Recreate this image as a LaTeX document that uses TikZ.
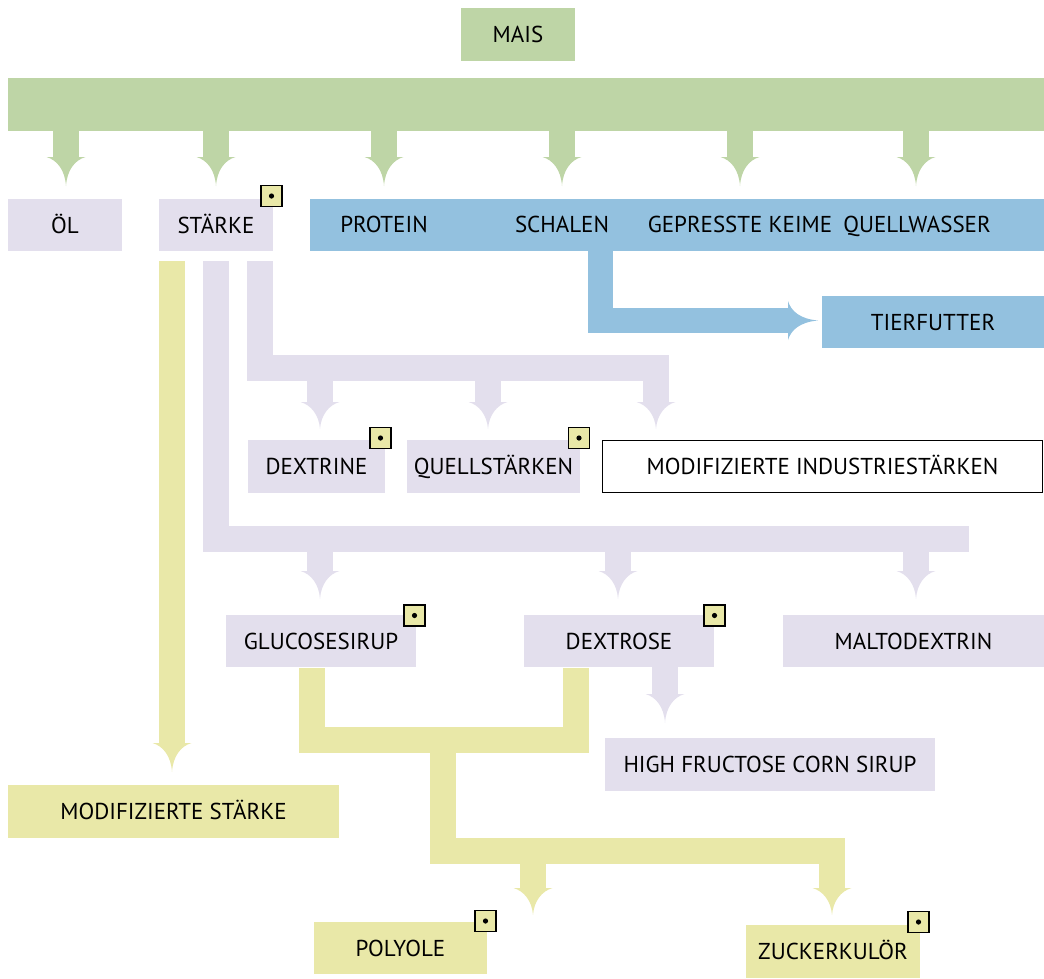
\documentclass[tikz,border=0pt]{standalone}
\usepackage{fontspec}
\setmainfont{PT Sans}
\definecolor{cgreen}{HTML}{BED5A6}
\definecolor{clav}{HTML}{E3DFED}
\definecolor{cblue}{HTML}{93C1DF}
\definecolor{cyel}{HTML}{E9E8A8}
\newcommand\dnhead[4]{%
  \fill[#1] (#2-19.5,#3) -- (#2+19.5,#3) .. controls (#2+9,#3+3) and (#2+1,#3+13) .. (#2,#4)
    .. controls (#2-1,#3+13) and (#2-9,#3+3) .. (#2-19.5,#3) -- cycle;}
\begin{document}
\begin{tikzpicture}[x=1pt,y=-1pt,
  box/.style={inner sep=0pt, outer sep=0pt, font=\fontsize{23}{26}\selectfont, text=black,
    text height=16pt, text depth=0pt, text width=, align=center},
  lbl/.style={inner sep=0pt, font=\fontsize{23}{26}\selectfont, text=black, text height=16pt, text depth=0pt},
  dotbox/.style={draw=black, line width=1.3pt, fill=cyel, minimum size=21pt, inner sep=0pt,
    path picture={\fill[black] (path picture bounding box.center) circle (2.6pt);}}
]
\useasboundingbox (0,0) rectangle (1044,978);
% ---------- green ----------
\node[box, fill=cgreen, minimum width=114pt, minimum height=53pt] (mais) at (518,34.5) {MAIS};
\fill[cgreen] (8,78) rectangle (1044,131);
\foreach \c in {66,216,384,562,740,916}{
  \fill[cgreen] (\c-13,130) rectangle (\c+13,158);
  \dnhead{cgreen}{\c}{157}{186}
}
% ---------- top row ----------
\node[box, fill=clav, minimum width=114pt, minimum height=52pt] (oel) at (65,225) {ÖL};
\node[box, fill=clav, minimum width=114pt, minimum height=52pt] (staerke) at (216,225) {STÄRKE};
\node[dotbox] (d1) at (271.5,196) {};
\node[box, fill=cblue, minimum width=734pt, minimum height=52pt] (blue) at (677,225) {};
\node[lbl] (protein) at (384,224) {PROTEIN};
\node[lbl] (schalen) at (562,224) {SCHALEN};
\node[lbl] (keime) at (740,224) {GEPRESSTE KEIME};
\node[lbl] (quell) at (917,224) {QUELLWASSER};
% ---------- blue arrow ----------
\fill[cblue] (588,251) rectangle (613,333);
\fill[cblue] (588,308) rectangle (790,333);
\fill[cblue] (788,301) -- (788,340) .. controls (791,330) and (800,322) .. (818,320.5)
   .. controls (800,319) and (791,311) .. (788,301) -- cycle;
\node[box, fill=cblue, minimum width=222pt, minimum height=52pt] (tier) at (933,322) {TIERFUTTER};
% ---------- starch branch 3 ----------
\fill[clav] (247,261) rectangle (273,381);
\fill[clav] (247,355) rectangle (669,381);
\foreach \c in {320,488,656}{
  \fill[clav] (\c-13,380) rectangle (\c+13,403);
  \dnhead{clav}{\c}{402}{429}
}
\node[box, fill=clav, minimum width=137pt, minimum height=53pt] (dextrine) at (316.5,466.5) {DEXTRINE};
\node[dotbox] (d2) at (380.5,438) {};
\node[box, fill=clav, minimum width=173pt, minimum height=53pt] (quellst) at (493.5,466.5) {QUELLSTÄRKEN};
\node[dotbox] (d3) at (579,438) {};
\node[box, draw=black, line width=1.3pt, fill=white, minimum width=440pt, minimum height=52pt] (modind) at (822.5,466.5) {MODIFIZIERTE INDUSTRIESTÄRKEN};
% ---------- starch branch 2 ----------
\fill[clav] (203,261) rectangle (229,552);
\fill[clav] (203,526) rectangle (969,552);
\foreach \c in {320,618,916}{
  \fill[clav] (\c-13,551) rectangle (\c+13,572);
  \dnhead{clav}{\c}{571}{599}
}
\node[box, fill=clav, minimum width=190pt, minimum height=52pt] (gluc) at (321,641) {GLUCOSESIRUP};
\node[dotbox] (d4) at (414.5,615.5) {};
\node[box, fill=clav, minimum width=190pt, minimum height=52pt] (dextrose) at (619,641) {DEXTROSE};
\node[dotbox] (d5) at (714.5,615.5) {};
\node[box, fill=clav, minimum width=261pt, minimum height=52pt] (malto) at (913.5,641) {MALTODEXTRIN};
\fill[clav] (652,666) rectangle (678,695);
\dnhead{clav}{665}{694}{723}
\node[box, fill=clav, minimum width=330pt, minimum height=53pt] (hfcs) at (770,764.5) {HIGH FRUCTOSE CORN SIRUP};
% ---------- yellow ----------
\fill[cyel] (159,261) rectangle (185,745);
\dnhead{cyel}{172}{743}{772}
\node[box, fill=cyel, minimum width=331pt, minimum height=53pt] (modst) at (173.5,811.5) {MODIFIZIERTE STÄRKE};
\fill[cyel] (299,668) rectangle (325,753);
\fill[cyel] (563,668) rectangle (589,753);
\fill[cyel] (299,727) rectangle (589,753);
\fill[cyel] (430,752) rectangle (456,864);
\fill[cyel] (430,838) rectangle (845,864);
\foreach \c in {533,832}{
  \fill[cyel] (\c-13,863) rectangle (\c+13,889);
  \dnhead{cyel}{\c}{888}{915}
}
\node[box, fill=cyel, minimum width=173pt, minimum height=52pt] (polyole) at (400.5,948) {POLYOLE};
\node[dotbox] (d6) at (485.5,921) {};
\node[box, fill=cyel, minimum width=174pt, minimum height=53pt] (zucker) at (833,951.5) {ZUCKERKULÖR};
\node[dotbox] (d7) at (918.5,922) {};
\end{tikzpicture}
\end{document}
